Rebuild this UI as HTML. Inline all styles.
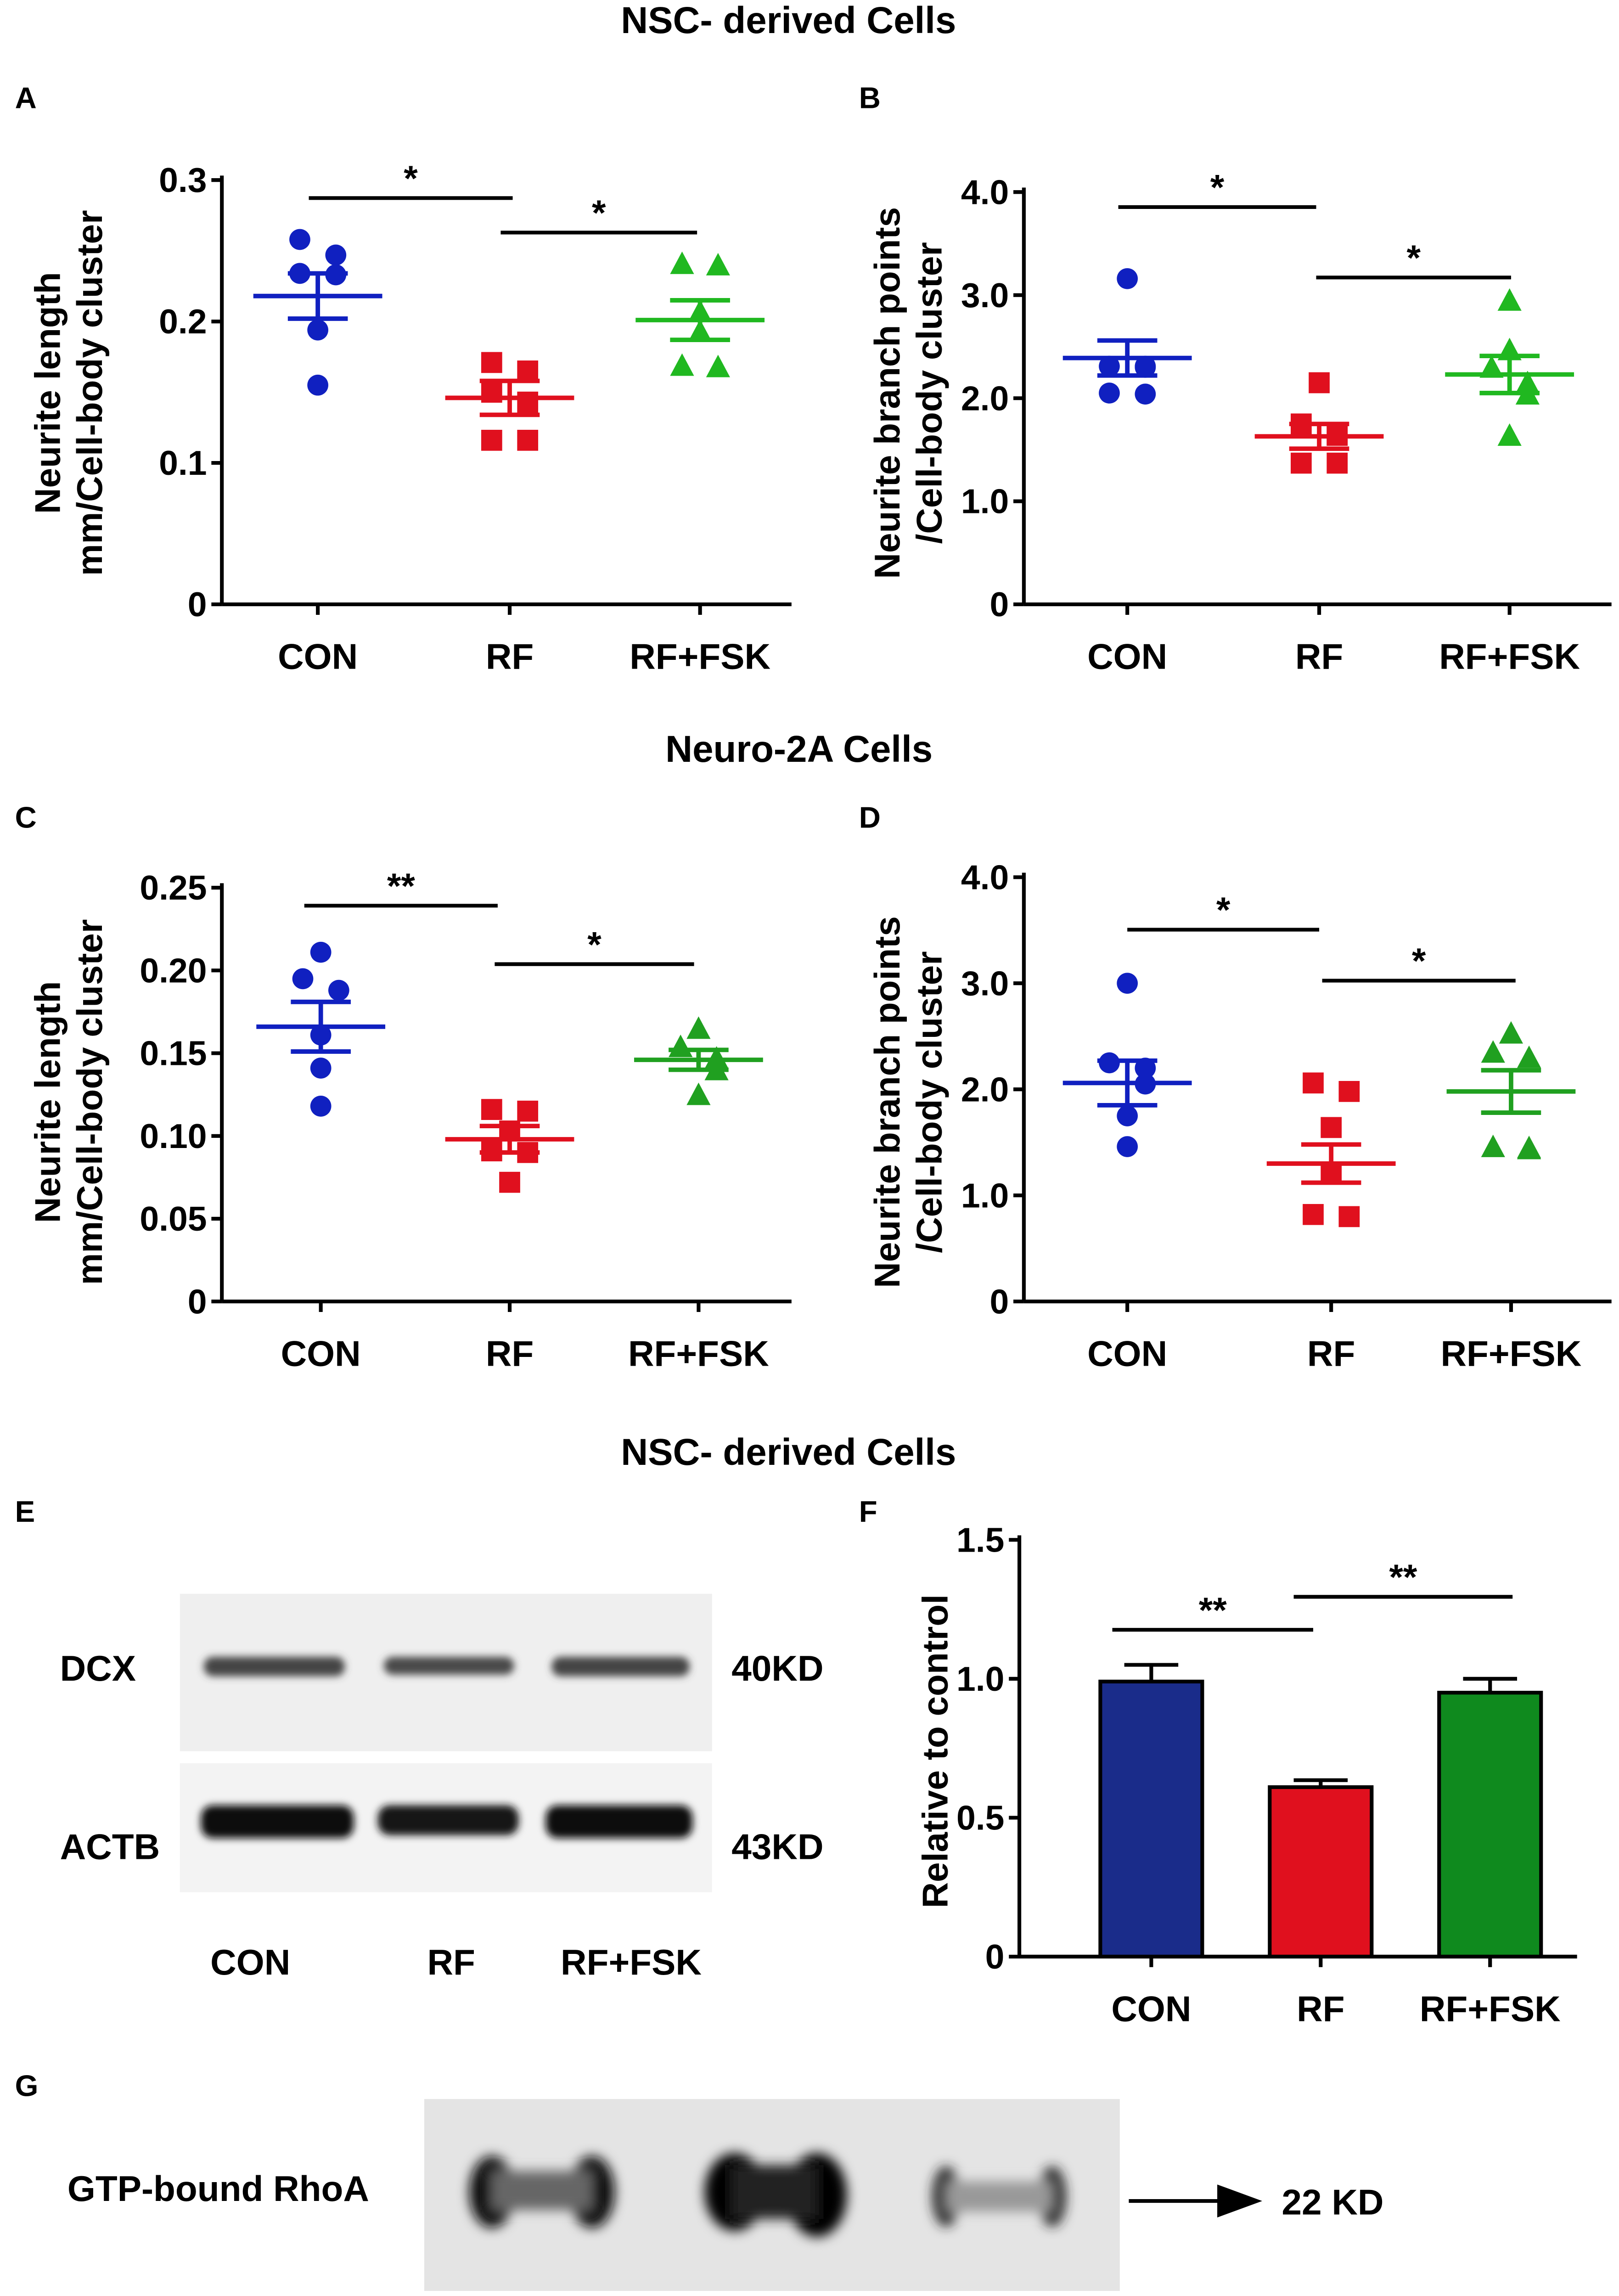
<!DOCTYPE html>
<html><head><meta charset="utf-8">
<style>
html,body{margin:0;padding:0;background:#fff;overflow:hidden;width:3526px;height:5133px;}
svg{display:block;font-family:"Liberation Sans",Arial,sans-serif;font-weight:bold;}
</style></head>
<body>
<svg id="fig" width="3526" height="5133" viewBox="0 0 1080 1572" xmlns="http://www.w3.org/2000/svg">
<defs>
<filter id="blur2" x="-20%" y="-50%" width="140%" height="200%"><feGaussianBlur stdDeviation="2.5"/></filter>
<filter id="blur4" x="-20%" y="-50%" width="140%" height="200%"><feGaussianBlur stdDeviation="4"/></filter>
</defs>
<text x="526" y="22" text-anchor="middle" font-size="25">NSC- derived Cells</text>
<text x="533" y="508" text-anchor="middle" font-size="25">Neuro-2A  Cells</text>
<text x="526" y="977" text-anchor="middle" font-size="25">NSC- derived Cells</text>
<text x="10" y="72" font-size="20">A</text>
<text x="573" y="72" font-size="20">B</text>
<text x="10" y="552" font-size="20">C</text>
<text x="573" y="552" font-size="20">D</text>
<text x="10" y="1015" font-size="20">E</text>
<text x="573" y="1015" font-size="20">F</text>
<text x="10" y="1398" font-size="20">G</text>

<!-- Blot E -->
<g>
<rect x="120" y="1063" width="355" height="105" fill="#efefef"/>
<rect x="120" y="1176" width="355" height="86" fill="#f3f3f3"/>
<g filter="url(#blur2)">
<rect x="136" y="1105" width="94" height="13" rx="6" fill="#444"/>
<rect x="256" y="1105" width="87" height="12" rx="6" fill="#4a4a4a"/>
<rect x="368" y="1105" width="92" height="13" rx="6" fill="#444"/>
<rect x="134" y="1204" width="102" height="22" rx="8" fill="#111"/>
<rect x="252" y="1204" width="94" height="20" rx="8" fill="#151515"/>
<rect x="364" y="1204" width="98" height="22" rx="8" fill="#111"/>
</g>
<text x="40" y="1121" font-size="24">DCX</text>
<text x="40" y="1240" font-size="24">ACTB</text>
<text x="488" y="1121" font-size="24">40KD</text>
<text x="488" y="1240" font-size="24">43KD</text>
<text x="167" y="1317" text-anchor="middle" font-size="24">CON</text>
<text x="301" y="1317" text-anchor="middle" font-size="24">RF</text>
<text x="421" y="1317" text-anchor="middle" font-size="24">RF+FSK</text>
</g>

<!-- Blot G -->
<g>
<rect x="283" y="1400" width="464" height="128" fill="#e4e4e4"/>
<g filter="url(#blur4)">
<ellipse cx="328" cy="1462" rx="15" ry="24" fill="#0a0a0a"/>
<ellipse cx="395" cy="1462" rx="15" ry="24" fill="#0a0a0a"/>
<rect x="328" y="1448" width="67" height="26" fill="#666"/>
<ellipse cx="490" cy="1462" rx="20" ry="26" fill="#000"/>
<ellipse cx="545" cy="1464" rx="20" ry="28" fill="#000"/>
<rect x="488" y="1444" width="57" height="36" fill="#222"/>
<ellipse cx="631" cy="1465" rx="9" ry="20" fill="#222"/>
<ellipse cx="702" cy="1465" rx="9" ry="20" fill="#222"/>
<rect x="631" y="1455" width="71" height="20" fill="#999"/>
</g>
<text x="45" y="1468" font-size="24">GTP-bound RhoA</text>
<line x1="753" y1="1468" x2="820" y2="1468" stroke="#000" stroke-width="2.5"/>
<polygon points="812,1457 842,1468 812,1479" fill="#000"/>
<text x="855" y="1477" font-size="24">22 KD</text>
<text x="363" y="1561" text-anchor="middle" font-size="24">CON</text>
<text x="517" y="1561" text-anchor="middle" font-size="24">RF</text>
<text x="672" y="1561" text-anchor="middle" font-size="24">RF+FSK</text>
</g>
<g id="charts"></g>
</svg>
<script>
// Panel A data
const aCon=[0.258,0.247,0.234,0.233,0.194,0.155];
const aRf=[0.171,0.165,0.150,0.143,0.116,0.116];
const aFsk=[0.241,0.240,0.207,0.193,0.169,0.168];
const aMeans=[0.218,0.146,0.201];
const aSem=[0.016,0.012,0.014];
const aTicks=["0","0.1","0.2","0.3"];
const aTickVals=[0,0.1,0.2,0.3];
// Panel B
const bCon=[3.16,2.31,2.31,2.05,2.04,2.3];
const bRf=[2.15,1.75,1.64,1.64,1.37,1.37];
const bFsk=[2.95,2.47,2.3,2.15,2.04,1.64];
const bMeans=[2.39,1.63,2.23];
const bSem=[0.17,0.12,0.18];
const bTicks=["0","1.0","2.0","3.0","4.0"];
const bTickVals=[0,1,2,3,4];
// Panel C
const cCon=[0.211,0.195,0.188,0.161,0.141,0.118];
const cRf=[0.116,0.115,0.103,0.091,0.090,0.072];
const cFsk=[0.165,0.154,0.147,0.145,0.140,0.125];
const cMeans=[0.166,0.098,0.146];
const cSem=[0.015,0.008,0.006];
const cTicks=["0","0.05","0.10","0.15","0.20","0.25"];
const cTickVals=[0,0.05,0.10,0.15,0.20,0.25];
// Panel D
const dCon=[3.0,2.25,2.2,2.05,1.75,1.46];
const dRf=[2.06,1.98,1.64,1.2,0.82,0.8];
const dFsk=[2.53,2.35,2.3,1.46,1.45,1.44];
const dMeans=[2.06,1.3,1.98];
const dSem=[0.21,0.18,0.2];
const dTicks=["0","1.0","2.0","3.0","4.0"];
const dTickVals=[0,1,2,3,4];
// Panel F
const fVals=[0.99,0.61,0.95];
const fErr=[0.06,0.025,0.05];
const fTicks=["0","0.5","1.0","1.5"];
const fTickVals=[0,0.5,1.0,1.5];
const categories=["CON","RF","RF+FSK"];

const NS="http://www.w3.org/2000/svg";
const root=document.getElementById("charts");
function mk(tag,attrs,parent,text){const e=document.createElementNS(NS,tag);for(const k in attrs)e.setAttribute(k,attrs[k]);if(text!==undefined)e.textContent=text;(parent||root).appendChild(e);return e;}

function axes(g,cfg){
  const y=v=>cfg.y0-(v-0)/(cfg.max)*(cfg.y0-cfg.yTop);
  mk("line",{x1:cfg.ax,y1:cfg.yTop-3,x2:cfg.ax,y2:cfg.y0,stroke:"#000","stroke-width":2.5},g);
  mk("line",{x1:cfg.ax,y1:cfg.y0,x2:cfg.axEnd,y2:cfg.y0,stroke:"#000","stroke-width":2.5},g);
  cfg.tickVals.forEach((v,i)=>{
    mk("line",{x1:cfg.ax-7,y1:y(v),x2:cfg.ax,y2:y(v),stroke:"#000","stroke-width":2.5},g);
    const t=mk("text",{x:cfg.ax-10,y:y(v)+8,"text-anchor":"end","font-size":23},g,cfg.ticks[i]);
    
    
  });
  cfg.cx.forEach((x,i)=>{
    mk("line",{x1:x,y1:cfg.y0,x2:x,y2:cfg.y0+7,stroke:"#000","stroke-width":2.5},g);
    const t=mk("text",{x:x,y:cfg.y0+43,"text-anchor":"middle","font-size":24},g,categories[i]);
    
    
  });
  cfg.titles.forEach((s,i)=>{
    const tx=cfg.titleX+i*28, ty=cfg.titleY;
    const t=mk("text",{x:tx,y:ty,"text-anchor":"middle","font-size":24,transform:`rotate(-90 ${tx} ${ty})`},g,s);
    
    
  });
  cfg.sig.forEach(s=>{
    mk("line",{x1:s[0],y1:s[2],x2:s[1],y2:s[2],stroke:"#000","stroke-width":2.5},g);
    const t=mk("text",{x:(s[0]+s[1])/2,y:s[2]-5,"text-anchor":"middle","font-size":24},g,s[3]);
    
    
  });
  return y;
}
function marker(g,shape,x,yy,color){
  let e;
  if(shape==="c") e=mk("circle",{cx:x,cy:yy,r:7,fill:color},g);
  else if(shape==="s") e=mk("rect",{x:x-7,y:yy-7,width:14,height:14,fill:color},g);
  else e=mk("polygon",{points:`${x},${yy-8} ${x+8},${yy+7} ${x-8},${yy+7}`,fill:color},g);
  
  
}
function scatter(name,cfg,series,means,sems,colors){
  const g=mk("g",{});
  
  
  const y=axes(g,cfg);
  const shapes=["c","s","t"];
  series.forEach((arr,i)=>{
    arr.forEach((v,j)=>{
      let dx=0; const near=arr.filter((w,k)=>k<j && Math.abs(w-v)<(cfg.max*0.04)).length;
      const nearAfter=arr.filter((w,k)=>k>j && Math.abs(w-v)<(cfg.max*0.04)).length;
      if(near+nearAfter>0) dx= near? 12 : -12;
      marker(g,shapes[i],cfg.cx[i]+dx,y(v),colors[i]);
    });
    const m=y(means[i]),hi=y(means[i]+sems[i]),lo=y(means[i]-sems[i]);
    const ml=mk("line",{x1:cfg.cx[i]-43,y1:m,x2:cfg.cx[i]+43,y2:m,stroke:colors[i],"stroke-width":3},g);
    
    
    mk("line",{x1:cfg.cx[i],y1:hi,x2:cfg.cx[i],y2:lo,stroke:colors[i],"stroke-width":3},g);
    mk("line",{x1:cfg.cx[i]-20,y1:hi,x2:cfg.cx[i]+20,y2:hi,stroke:colors[i],"stroke-width":3},g);
    mk("line",{x1:cfg.cx[i]-20,y1:lo,x2:cfg.cx[i]+20,y2:lo,stroke:colors[i],"stroke-width":3},g);
  });
}
const cols1=["#1020c0","#e0101e","#20b820"];
const cols2=["#1020c0","#e0101e","#20a020"];
scatter("panel-a",{ax:148,axEnd:528,y0:403,yTop:120,max:0.3,tickVals:aTickVals,ticks:aTicks,cx:[212,340,467],
  titles:["Neurite length","mm/Cell-body cluster"],titleX:40,titleY:262,sig:[[206,342,132,"*"],[334,465,155,"*"]]},[aCon,aRf,aFsk],aMeans,aSem,cols1);
scatter("panel-b",{ax:683,axEnd:1075,y0:403,yTop:128,max:4,tickVals:bTickVals,ticks:bTicks,cx:[752,880,1007],
  titles:["Neurite branch points","/Cell-body cluster"],titleX:600,titleY:262,sig:[[746,878,138,"*"],[878,1008,185,"*"]]},[bCon,bRf,bFsk],bMeans,bSem,cols1);
scatter("panel-c",{ax:148,axEnd:528,y0:868,yTop:592,max:0.25,tickVals:cTickVals,ticks:cTicks,cx:[214,340,466],
  titles:["Neurite length","mm/Cell-body cluster"],titleX:40,titleY:735,sig:[[203,332,604,"**"],[330,463,643,"*"]]},[cCon,cRf,cFsk],cMeans,cSem,cols2);
scatter("panel-d",{ax:683,axEnd:1075,y0:868,yTop:585,max:4,tickVals:dTickVals,ticks:dTicks,cx:[752,888,1008],
  titles:["Neurite branch points","/Cell-body cluster"],titleX:600,titleY:735,sig:[[752,880,620,"*"],[882,1011,654,"*"]]},[dCon,dRf,dFsk],dMeans,dSem,cols2);

// Panel F bar chart
(function(){
  const g=mk("g",{});
  
  
  const cfg={ax:680,axEnd:1052,y0:1305,yTop:1027,max:1.5,tickVals:fTickVals,ticks:fTicks,cx:[768,881,994],
    titles:["Relative to control"],titleX:632,titleY:1168,sig:[[742,876,1087,"**"],[863,1009,1065,"**"]]};
  const y=axes(g,cfg);
  const fills=["#1a2c8a","#e0101e","#0f8a1e"];
  fVals.forEach((v,i)=>{
    const top=y(v);
    mk("line",{x1:cfg.cx[i],y1:top,x2:cfg.cx[i],y2:y(v+fErr[i]),stroke:"#000","stroke-width":2.5},g);
    mk("line",{x1:cfg.cx[i]-18,y1:y(v+fErr[i]),x2:cfg.cx[i]+18,y2:y(v+fErr[i]),stroke:"#000","stroke-width":2.5},g);
    const r=mk("rect",{x:cfg.cx[i]-34,y:top,width:68,height:cfg.y0-top,fill:fills[i],stroke:"#000","stroke-width":2.5},g);
    
    
  });
  mk("line",{x1:cfg.ax,y1:cfg.y0,x2:cfg.axEnd,y2:cfg.y0,stroke:"#000","stroke-width":2.5},g);
})();
</script>
</body></html>
